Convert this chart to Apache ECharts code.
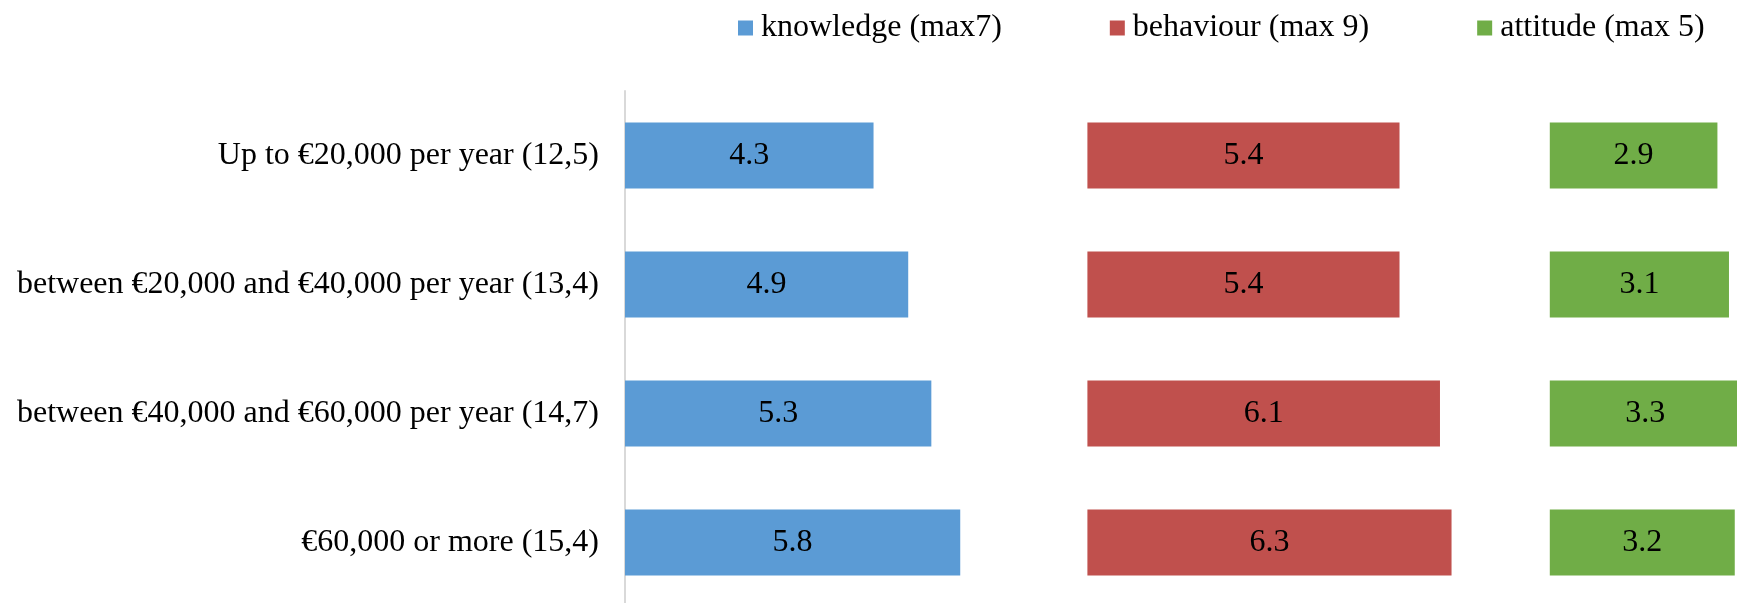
<!DOCTYPE html>
<html>
<head>
<meta charset="utf-8">
<script src="https://cdn.jsdelivr.net/npm/echarts@6/dist/echarts.min.js"></script>
<style>
  html, body { margin: 0; padding: 0; background: #ffffff; }
  #chart { width: 1737px; height: 603px; }
</style>
</head>
<body>
<div id="chart"></div>
<script>
// Income groups (with share of respondents) and average scores per domain
const categories = [
  'Up to €20,000 per year (12,5)',
  'between €20,000 and €40,000 per year (13,4)',
  'between €40,000 and €60,000 per year (14,7)',
  '€60,000 or more (15,4)'
];
const knowledge = [4.3, 4.9, 5.3, 5.8];
const behaviour = [5.4, 5.4, 6.1, 6.3];
const attitude = [2.9, 3.1, 3.3, 3.2];
const seriesNames = ['knowledge (max7)', 'behaviour (max 9)', 'attitude (max 5)'];
const colors = ['#5B9BD5', '#C0504D', '#70AD47'];

const FONT = "'Liberation Serif', 'Times New Roman', serif";
const UNIT = 57.8;          // pixels per score point
const PANEL = 8;            // score span of each panel
const LEFT = 625;
const TOP = 91;
const HEIGHT = 516;

const panels = [knowledge, behaviour, attitude];

// One panel per domain, laid side by side; the last one runs past the right edge
const grids = panels.map((_, i) => ({
  left: LEFT + i * PANEL * UNIT,
  top: TOP,
  width: PANEL * UNIT,
  height: HEIGHT,
  containLabel: false,
  outerBoundsMode: 'none'
}));

const xAxes = panels.map((_, i) => ({
  type: 'value',
  gridIndex: i,
  min: 0,
  max: PANEL,
  show: false
}));

const yAxes = panels.map((_, i) => ({
  type: 'category',
  gridIndex: i,
  data: categories,
  inverse: true,
  show: i === 0,
  axisLine: { show: i === 0, lineStyle: { color: '#D9D9D9', width: 2 } },
  axisTick: { show: false },
  splitLine: { show: false },
  axisLabel: {
    show: i === 0,
    margin: 26,
    color: '#000000',
    fontFamily: FONT,
    fontSize: 32
  }
}));

const series = panels.map((values, i) => ({
  name: seriesNames[i],
  type: 'bar',
  xAxisIndex: i,
  yAxisIndex: i,
  data: values,
  barWidth: 66,
  itemStyle: { color: colors[i] },
  label: {
    show: true,
    position: 'inside',
    color: '#000000',
    fontFamily: FONT,
    fontSize: 32,
    formatter: p => p.value.toFixed(1)
  },
  emphasis: { disabled: true }
}));

const chart = echarts.init(document.getElementById('chart'), null, { renderer: 'canvas' });
chart.setOption({
  animation: false,
  backgroundColor: '#ffffff',
  legend: {
    data: seriesNames.map(n => ({ name: n, icon: 'rect' })),
    left: 733,
    top: 7,
    itemWidth: 15,
    itemHeight: 15,
    itemGap: 108,
    textStyle: { color: '#000000', fontFamily: FONT, fontSize: 32, padding: [0, 0, 0, 3] }
  },
  grid: grids,
  xAxis: xAxes,
  yAxis: yAxes,
  series: series
});
</script>
</body>
</html>
